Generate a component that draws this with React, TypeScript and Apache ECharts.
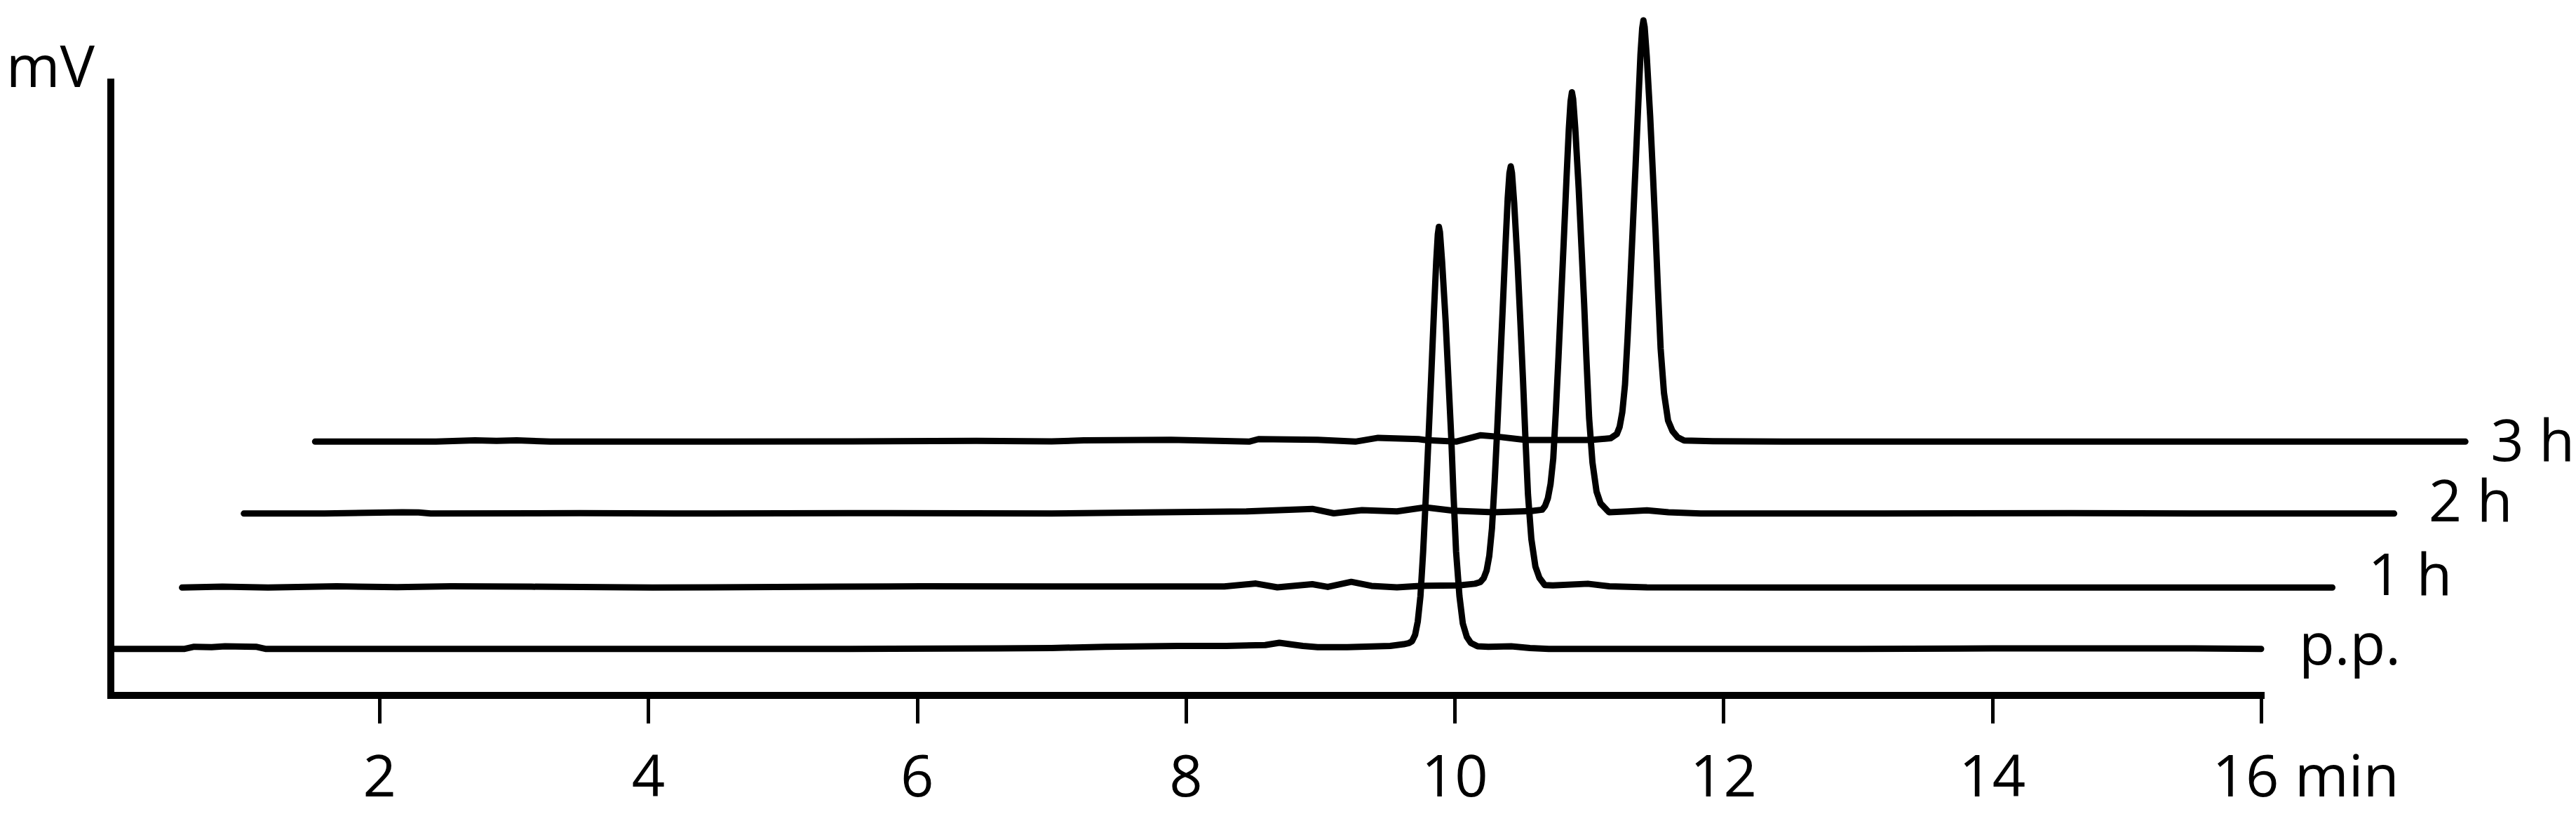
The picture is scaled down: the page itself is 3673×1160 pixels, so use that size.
import React, { useEffect, useRef } from "react";
import * as echarts from "echarts";

// x tick values (min) and labels
const X_TICKS = [2, 4, 6, 8, 10, 12, 14, 16];

// trace names shown at the right end of each chromatogram
const TRACE_NAMES = ["p.p.", "1 h", "2 h", "3 h"];

// display offsets of the stacked traces: time shift (min) and signal shift (mV)
const X_SHIFT = [0, 0.53, 0.99, 1.52];
const Y_SHIFT = [11.0, 25.5, 43.0, 60.0];

// each trace: [time in its own run (min), signal above its own baseline (mV)]
const TRACE_PP: number[][] = [
  [0, 0], [0.55, 0], [0.62, 0.5], [0.75, 0.4], [0.85, 0.6], [1.08, 0.5], [1.15, 0],
  [3.0, 0], [5.5, 0], [6.6, 0.1], [7.0, 0.2], [7.4, 0.5], [7.94, 0.7], [8.3, 0.7],
  [8.59, 0.9], [8.695, 1.45], [8.8, 1.0], [8.87, 0.7], [8.98, 0.4], [9.2, 0.4],
  [9.52, 0.7], [9.62, 1.1], [9.66, 1.4],
  [9.682, 1.8], [9.705, 3.3], [9.725, 6.5], [9.745, 12.5], [9.765, 23], [9.785, 36],
  [9.805, 50], [9.825, 64.5], [9.845, 79.5], [9.862, 91.5], [9.874, 98], [9.882, 99.8],
  [9.89, 98.5], [9.906, 91.5], [9.932, 77.6], [9.953, 63.8], [9.974, 50], [9.99, 37],
  [10.01, 23], [10.035, 12.5], [10.06, 6], [10.09, 2.8], [10.12, 1.4], [10.17, 0.6],
  [10.25, 0.5], [10.42, 0.6], [10.56, 0.2], [10.7, 0], [13, 0], [14, 0.1], [15.5, 0.1], [16, 0],
];

const TRACE_1H: number[][] = [
  [0, 0], [0.3, 0.2], [0.64, 0], [1.15, 0.3], [1.6, 0.1], [2.0, 0.3], [2.6, 0.2],
  [3.5, 0], [4.88, 0.2], [5.5, 0.3], [6.47, 0.25], [7.2, 0.25], [7.755, 0.25],
  [7.99, 0.95], [8.15, 0.05], [8.41, 0.8], [8.525, 0.15], [8.7, 1.35], [8.85, 0.4],
  [9.04, 0.05], [9.21, 0.4], [9.5, 0.5], [9.62, 0.9], [9.66, 1.3],
  [9.685, 2.2], [9.707, 4], [9.727, 7.5], [9.747, 14], [9.767, 25], [9.787, 38],
  [9.807, 52], [9.827, 66], [9.847, 80.5], [9.864, 92], [9.877, 98], [9.887, 99.6],
  [9.896, 98], [9.912, 91], [9.937, 77], [9.958, 63], [9.978, 49], [9.995, 36],
  [10.015, 22], [10.04, 11.5], [10.07, 5], [10.1, 2.3], [10.14, 0.6], [10.2, 0.5],
  [10.46, 0.9], [10.62, 0.3], [10.9, 0.05], [12, 0], [14, 0], [16, 0],
];

const TRACE_2H: number[][] = [
  [0, 0], [0.6, 0], [1.18, 0.3], [1.3, 0.25], [1.39, 0], [2.5, 0.1], [3.2, 0],
  [4.5, 0.1], [6.01, 0], [6.71, 0.25], [7.46, 0.5], [7.95, 1.1], [8.11, 0.05],
  [8.32, 0.8], [8.58, 0.5], [8.79, 1.45], [9.0, 0.66], [9.3, 0.3], [9.58, 0.6], [9.66, 0.9],
  [9.682, 1.8], [9.703, 3.6], [9.723, 7], [9.743, 13], [9.762, 24], [9.782, 37],
  [9.802, 51], [9.822, 65], [9.842, 79.5], [9.859, 91], [9.872, 97.5], [9.882, 99.6],
  [9.891, 98], [9.907, 91], [9.932, 77], [9.953, 63], [9.973, 49.5], [9.99, 36.5],
  [10.01, 22.5], [10.035, 12], [10.065, 5.2], [10.095, 2.4], [10.158, 0.3], [10.3, 0.5],
  [10.44, 0.75], [10.6, 0.3], [10.84, 0], [12.2, 0], [13.6, 0.1], [14.5, 0], [16, 0],
];

const TRACE_3H: number[][] = [
  [0, 0], [0.9, 0], [1.19, 0.3], [1.35, 0.2], [1.5, 0.3], [1.75, 0], [3.0, 0],
  [4.0, 0.05], [4.92, 0.2], [5.48, 0.05], [5.72, 0.3], [6.37, 0.45], [6.95, 0],
  [7.02, 0.6], [7.46, 0.45], [7.74, 0], [7.91, 0.9], [8.21, 0.6], [8.27, 0.33],
  [8.49, 0], [8.67, 1.5], [8.79, 1.2], [9.01, 0.4], [9.23, 0.4], [9.49, 0.4], [9.64, 0.8],
  [9.686, 1.8], [9.707, 3.5], [9.727, 7], [9.747, 13.5], [9.766, 24.5], [9.786, 37.5],
  [9.806, 51.5], [9.826, 65.5], [9.846, 80], [9.862, 91.5], [9.875, 97.8], [9.884, 99.6],
  [9.893, 98], [9.909, 91], [9.934, 77], [9.955, 63], [9.975, 49], [9.992, 36],
  [10.012, 22], [10.037, 11.5], [10.067, 5], [10.1, 2.5], [10.14, 1.0], [10.187, 0.25],
  [10.4, 0.1], [10.94, 0], [13, 0], [16, 0],
];

const TRACES = [TRACE_PP, TRACE_1H, TRACE_2H, TRACE_3H];

// label placement tweaks for the end labels [dx, dy]
const END_LABEL_OFFSETS = [
  [54, -10],
  [51, -22],
  [49, -21],
  [36, -5],
];

const FONT = "'Open Sans', 'Noto Sans', sans-serif";
const FS = 83;

// layout: visible axis 0..16 min spans 3066 px; traces share the same scale
const W = 3673;
const H = 1160;
const LEFT = 158;
const AXIS_RIGHT = 449;
const TOP = 117;
const BOTTOM = 169;
const X_MAX = 16;
const TRACE_X_MAX = 18;
const PX_PER_MIN = (W - LEFT - AXIS_RIGHT) / X_MAX;
const TRACE_RIGHT = W - LEFT - TRACE_X_MAX * PX_PER_MIN;

export default function App() {
  const ref = useRef<HTMLDivElement>(null);

  useEffect(() => {
    document.body.style.margin = "0";
    document.body.style.overflow = "hidden";
    if (!ref.current) return;
    const chart = echarts.init(ref.current, undefined, { renderer: "svg" });

    const series = TRACES.map((trace, i) => ({
      name: TRACE_NAMES[i],
      type: "line",
      xAxisIndex: 1,
      yAxisIndex: 1,
      data: trace.map(([t, v]) => [t + X_SHIFT[i], v + Y_SHIFT[i]]),
      showSymbol: false,
      symbol: "none",
      clip: false,
      smooth: false,
      lineStyle: { color: "#000", width: 9, join: "round", cap: "round" },
      endLabel: {
        show: true,
        formatter: TRACE_NAMES[i],
        color: "#000",
        fontFamily: FONT,
        fontSize: FS,
        lineHeight: FS,
        align: "left",
        verticalAlign: "middle",
        distance: 0,
        offset: END_LABEL_OFFSETS[i],
      },
      z: 3,
    }));

    const nameStyle = {
      color: "#000",
      fontFamily: FONT,
      fontSize: FS,
      lineHeight: FS,
    };

    chart.setOption({
      animation: false,
      backgroundColor: "#fff",
      grid: [
        { left: LEFT, right: AXIS_RIGHT, top: TOP, bottom: BOTTOM, containLabel: false },
        { left: LEFT, right: TRACE_RIGHT, top: TOP, bottom: BOTTOM, containLabel: false },
      ],
      xAxis: [
        {
          type: "value",
          gridIndex: 0,
          min: 0,
          max: X_MAX,
          interval: 2,
          name: "min",
          nameLocation: "end",
          nameGap: 48,
          nameMoveOverlap: false,
          nameTextStyle: {
            ...nameStyle,
            align: "left",
            verticalAlign: "top",
            padding: [70, 0, 0, 0],
          },
          axisLine: { show: true, lineStyle: { color: "#000", width: 10, cap: "square" } },
          axisTick: {
            show: true,
            inside: false,
            length: 40,
            customValues: X_TICKS,
            lineStyle: { color: "#000", width: 5 },
          },
          axisLabel: {
            show: true,
            customValues: X_TICKS,
            margin: 70,
            hideOverlap: false,
            ...nameStyle,
            formatter: (v: number) => (v === 16 ? "{s|16}" : String(v)),
            rich: {
              s: { ...nameStyle, padding: [0, 44, 0, 0] },
            },
          },
          splitLine: { show: false },
        },
        {
          type: "value",
          gridIndex: 1,
          min: 0,
          max: TRACE_X_MAX,
          show: false,
        },
      ],
      yAxis: [
        {
          type: "value",
          gridIndex: 0,
          min: 0,
          max: 145,
          name: "mV",
          nameLocation: "end",
          nameGap: 67,
          nameMoveOverlap: false,
          nameTextStyle: {
            ...nameStyle,
            align: "right",
            verticalAlign: "top",
            padding: [0, 23, 0, 0],
          },
          axisLine: { show: true, lineStyle: { color: "#000", width: 10, cap: "square" } },
          axisTick: { show: false },
          axisLabel: { show: false },
          splitLine: { show: false },
        },
        {
          type: "value",
          gridIndex: 1,
          min: 0,
          max: 145,
          show: false,
        },
      ],
      series,
    });

    return () => chart.dispose();
  }, []);

  return <div ref={ref} style={{ width: W, height: H }} />;
}
